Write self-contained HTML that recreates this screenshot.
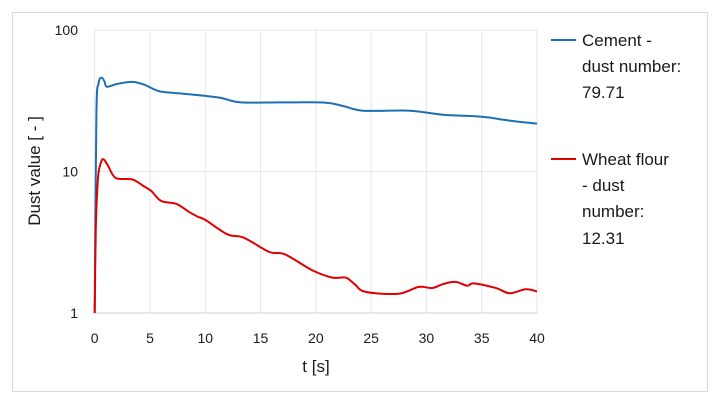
<!DOCTYPE html>
<html><head><meta charset="utf-8"><style>
body{margin:0;background:#fff;font-family:"Liberation Sans",sans-serif}
svg text{font-family:"Liberation Sans",sans-serif;fill:#1a1a1a}
</style></head><body>
<svg width="719" height="404">
<rect x="12.5" y="12.5" width="695" height="379" fill="#fff" stroke="#d9d9d9"/>
<g id="grid"></g><g id="ticks"></g><g id="series"></g>
<text x="0" y="0" transform="translate(40,171) rotate(-90)" text-anchor="middle" font-size="17">Dust value [ - ]</text>
<text x="316" y="372" text-anchor="middle" font-size="17">t [s]</text>
<g>
<line x1="551" y1="40" x2="576" y2="40" stroke="#1f6fb5" stroke-width="2"/>
<text x="582" y="46" font-size="17">Cement -</text>
<text x="582" y="72" font-size="17">dust number:</text>
<text x="582" y="98" font-size="17">79.71</text>
</g>
<g>
<line x1="551" y1="159" x2="576" y2="159" stroke="#e00000" stroke-width="2"/>
<text x="582" y="165" font-size="17">Wheat flour</text>
<text x="582" y="191" font-size="17">- dust</text>
<text x="582" y="217" font-size="17">number:</text>
<text x="582" y="244" font-size="17">12.31</text>
</g>
</svg>
<script>
const xTicks=[0,5,10,15,20,25,30,35,40];
const yTicks=[1,10,100];
const cementT=[0,0.15,0.35,0.63,0.9,1.1,2,3.4,4.5,5.8,7.6,10,11.5,13.2,17,20.8,22.5,24.3,28.5,31.5,35,37,38.5,40];
const cementV=[1,25,42,46,43,39.7,41.5,43,41,37,35.7,34.2,33,30.8,30.8,30.7,29,26.9,26.9,25.2,24.4,23.2,22.4,21.8];
const wheatT=[0,0.1,0.3,0.55,0.8,1.2,1.9,3.4,4.4,5.1,6,7.4,8.5,9.3,10,12,13.5,15.8,17.2,19.7,21.5,22.7,23.5,24.5,27.5,29.3,30.5,31.5,32.6,33.7,34.3,36.3,37.5,39,40];
const wheatV=[1,4,9,11.5,12.2,11,9.0,8.8,7.9,7.3,6.2,5.9,5.2,4.8,4.55,3.6,3.4,2.7,2.6,2.0,1.78,1.78,1.6,1.41,1.37,1.53,1.5,1.6,1.66,1.56,1.62,1.5,1.38,1.47,1.42];
const X0=94.7,X1=537,YT=30,YB=313;
const xs=t=>X0+(X1-X0)*t/40;
const ys=v=>YB-(YB-YT)*Math.log10(v)/2;
const NS='http://www.w3.org/2000/svg';
const grid=document.getElementById('grid'),ticks=document.getElementById('ticks'),ser=document.getElementById('series');
xTicks.forEach(t=>{
 const l=document.createElementNS(NS,'line');
 l.setAttribute('x1',xs(t));l.setAttribute('x2',xs(t));l.setAttribute('y1',YT);l.setAttribute('y2',YB);
 l.setAttribute('stroke','#e6e6e6');
 
 
 grid.appendChild(l);
 const tx=document.createElementNS(NS,'text');
 tx.setAttribute('x',xs(t));tx.setAttribute('y',343);tx.setAttribute('text-anchor','middle');tx.setAttribute('font-size','14');
 tx.textContent=t;
 
 
 ticks.appendChild(tx);
});
yTicks.forEach(v=>{
 const l=document.createElementNS(NS,'line');
 l.setAttribute('x1',X0);l.setAttribute('x2',X1);l.setAttribute('y1',ys(v));l.setAttribute('y2',ys(v));
 l.setAttribute('stroke',v===1?'#d0d0d0':'#e6e6e6');
 
 
 grid.appendChild(l);
 const tx=document.createElementNS(NS,'text');
 tx.setAttribute('x',78);tx.setAttribute('y',ys(v)+5);tx.setAttribute('text-anchor','end');tx.setAttribute('font-size','14');
 tx.textContent=v;
 
 
 ticks.appendChild(tx);
});
function line(T,V,color,name){
 const P=T.map((t,i)=>[xs(t),ys(V[i])]);
 let d='M'+P[0][0].toFixed(1)+','+P[0][1].toFixed(1);
 for(let i=0;i<P.length-1;i++){
  const p0=P[Math.max(0,i-1)],p1=P[i],p2=P[i+1],p3=P[Math.min(P.length-1,i+2)];
  const c1=[p1[0]+(p2[0]-p0[0])/6,p1[1]+(p2[1]-p0[1])/6];
  const c2=[p2[0]-(p3[0]-p1[0])/6,p2[1]-(p3[1]-p1[1])/6];
  d+=' C'+c1.map(n=>n.toFixed(1)).join(',')+' '+c2.map(n=>n.toFixed(1)).join(',')+' '+p2.map(n=>n.toFixed(1)).join(',');
 }
 const p=document.createElementNS(NS,'path');
 p.setAttribute('d',d);
 p.setAttribute('fill','none');p.setAttribute('stroke',color);p.setAttribute('stroke-width','2');p.setAttribute('stroke-linejoin','round');
 
 
 ser.appendChild(p);
}
line(cementT,cementV,'#1f6fb5','cement-line');
line(wheatT,wheatV,'#e00000','wheat-flour-line');
</script>
</body></html>
